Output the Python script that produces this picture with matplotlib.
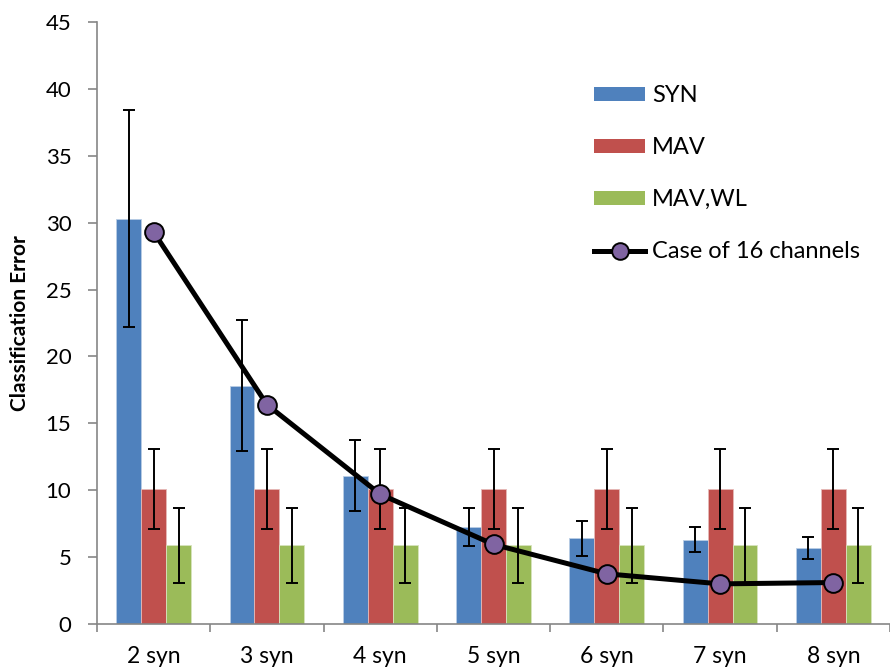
import matplotlib
matplotlib.use("Agg")
import matplotlib.pyplot as plt
import numpy as np
from matplotlib.patches import Patch
from matplotlib.lines import Line2D

categories = ["2 syn", "3 syn", "4 syn", "5 syn", "6 syn", "7 syn", "8 syn"]
syn = [30.3, 17.8, 11.1, 7.25, 6.4, 6.3, 5.7]
syn_err = [8.1, 4.9, 2.65, 1.43, 1.3, 0.93, 0.82]
mav = [10.1, 10.1, 10.1, 10.1, 10.1, 10.1, 10.1]
mav_err = [3.0, 3.0, 3.0, 3.0, 3.0, 3.0, 3.0]
mavwl = [5.9, 5.9, 5.9, 5.9, 5.9, 5.9, 5.9]
mavwl_err = [2.8, 2.8, 2.8, 2.8, 2.8, 2.8, 2.8]
case16 = [29.3, 16.4, 9.7, 5.95, 3.75, 3.0, 3.1]

blue, red, green, purple = "#4F81BD", "#C0504D", "#9BBB59", "#8064A2"
axis_gray = "#868686"
plt.rcParams["font.family"] = ["Lato", "DejaVu Sans"]

fig = plt.figure(figsize=(8.9, 6.72), dpi=100)
ax = fig.add_axes([97 / 890, 48 / 672, 793 / 890, 602 / 672])

x = np.arange(len(categories))
w = 0.22
err_kw = dict(ecolor="black", elinewidth=1.4, capsize=4.3, capthick=1.4)
ax.bar(x - w, syn, w, yerr=syn_err, color=blue, edgecolor="#B9CDE5", linewidth=0.6,
       error_kw=err_kw, label="SYN", zorder=2)
ax.bar(x, mav, w, yerr=mav_err, color=red, edgecolor="#E6B9B8", linewidth=0.6,
       error_kw=err_kw, label="MAV", zorder=2)
ax.bar(x + w, mavwl, w, yerr=mavwl_err, color=green, edgecolor="#D7E4BD", linewidth=0.6,
       error_kw=err_kw, label="MAV,WL", zorder=2)
ax.plot(x, case16, color="black", lw=3.6, marker="o", ms=13.5, mfc=purple,
        mec="black", mew=1.4, zorder=4, label="Case of 16 channels")

ax.set_xlim(-0.5, -0.5 + 793 / 114)
ax.set_ylim(0, 45)
ax.set_yticks(np.arange(0, 46, 5))
ax.set_xticks(x)
ax.set_xticklabels(categories, fontsize=16.5)
ax.set_xticks(np.arange(-0.5, len(categories) + 0.5, 1), minor=True)
ax.tick_params(axis="x", which="major", length=0, pad=16)
ax.tick_params(axis="x", which="minor", length=6, color=axis_gray, width=1.2)
ax.tick_params(axis="y", length=6.5, color=axis_gray, width=1.2, labelsize=16, pad=12)
for s in ("top", "right"):
    ax.spines[s].set_visible(False)
for s in ("left", "bottom"):
    ax.spines[s].set_color(axis_gray)
    ax.spines[s].set_linewidth(1.2)

ax.set_ylabel("Classification Error", fontsize=15, fontweight="bold", labelpad=11)

handles = [
    Patch(facecolor=blue, edgecolor="none"),
    Patch(facecolor=red, edgecolor="none"),
    Patch(facecolor=green, edgecolor="none"),
    Line2D([], [], color="black", lw=3.6, marker="o", ms=12, mfc=purple, mec="black", mew=1.4),
]
labels = ["SYN", "MAV", "MAV,WL", "Case of 16 channels"]
fig.legend(handles, labels, loc="upper left", bbox_to_anchor=(594 / 890, 1 - 85 / 672),
           frameon=False, fontsize=17, handlelength=2.16, handleheight=0.55,
           handletextpad=0.3, labelspacing=1.32, borderaxespad=0, borderpad=0)

fig.savefig("out.png", dpi=100)
